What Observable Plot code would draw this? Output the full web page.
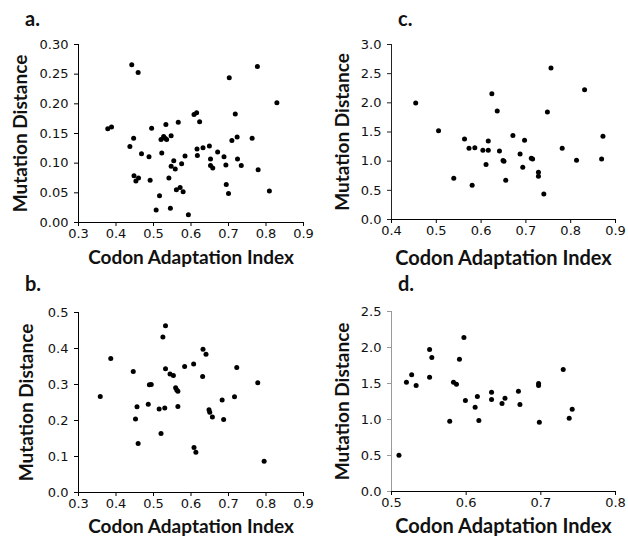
<!DOCTYPE html>
<html>
<head>
<meta charset="utf-8">
<script src="https://cdn.jsdelivr.net/npm/d3@7"></script>
<script src="https://cdn.jsdelivr.net/npm/@observablehq/plot@0.6"></script>
<style>
  html, body { margin: 0; padding: 0; background: #fff; }
  #root { position: relative; width: 628px; height: 536px; overflow: hidden; }
  .panel { position: absolute; width: 314px; height: 270px; }
  .tag { position: absolute; font-family: Lato, sans-serif; font-weight: bold; font-size: 20px; color: #111; line-height: 1; }
</style>
</head>
<body>
<div id="root"></div>
<script>
// ---- Data ----
const xLabel = "Codon Adaptation Index";
const yLabel = "Mutation Distance";

// Panel a
const aCAI  = [0.442,0.459,0.378,0.388,0.437,0.447,0.468,0.488,0.495,0.448,0.453,0.460,0.491,0.507,0.516,0.520,0.522,0.527,0.531,0.535,0.533,0.541,0.545,0.547,0.547,0.554,0.558,0.561,0.566,0.571,0.575,0.579,0.584,0.593,0.608,0.615,0.616,0.617,0.623,0.632,0.649,0.652,0.652,0.658,0.671,0.688,0.693,0.694,0.700,0.702,0.709,0.718,0.723,0.724,0.734,0.763,0.777,0.779,0.809,0.829];
const aDist = [0.266,0.253,0.158,0.161,0.128,0.142,0.116,0.111,0.159,0.079,0.070,0.075,0.071,0.021,0.045,0.140,0.117,0.145,0.142,0.140,0.165,0.075,0.024,0.146,0.095,0.104,0.090,0.055,0.169,0.059,0.099,0.052,0.112,0.013,0.182,0.185,0.124,0.113,0.170,0.126,0.129,0.107,0.096,0.092,0.119,0.111,0.097,0.064,0.049,0.244,0.138,0.183,0.144,0.107,0.096,0.142,0.263,0.089,0.053,0.202];

// Panel b
const bCAI  = [0.358,0.386,0.446,0.452,0.456,0.459,0.486,0.489,0.494,0.515,0.520,0.525,0.530,0.532,0.532,0.544,0.553,0.559,0.562,0.565,0.565,0.583,0.607,0.608,0.613,0.631,0.632,0.640,0.648,0.650,0.657,0.683,0.687,0.716,0.722,0.778,0.795];
const bDist = [0.267,0.372,0.336,0.204,0.238,0.136,0.245,0.299,0.300,0.232,0.164,0.432,0.235,0.463,0.344,0.329,0.325,0.291,0.285,0.281,0.239,0.350,0.357,0.125,0.112,0.322,0.398,0.384,0.230,0.223,0.210,0.257,0.203,0.266,0.347,0.305,0.087];

// Panel c
const cCAI  = [0.454,0.505,0.539,0.563,0.573,0.580,0.586,0.604,0.611,0.616,0.616,0.624,0.636,0.641,0.649,0.651,0.655,0.671,0.687,0.693,0.697,0.712,0.715,0.728,0.728,0.740,0.748,0.756,0.781,0.813,0.831,0.869,0.872];
const cDist = [1.997,1.523,0.707,1.380,1.221,0.588,1.232,1.187,0.941,1.346,1.187,2.156,1.860,1.175,1.010,0.998,0.673,1.438,1.124,0.896,1.358,1.050,1.038,0.810,0.742,0.439,1.843,2.596,1.221,1.015,2.225,1.038,1.426];

// Panel d
const dCAI  = [0.510,0.520,0.527,0.533,0.551,0.551,0.554,0.578,0.583,0.587,0.591,0.597,0.599,0.612,0.615,0.617,0.634,0.634,0.648,0.652,0.670,0.672,0.697,0.697,0.698,0.730,0.738,0.742];
const dDist = [0.505,1.519,1.620,1.472,1.972,1.588,1.861,0.977,1.519,1.491,1.838,2.139,1.264,1.171,1.319,0.986,1.380,1.278,1.222,1.296,1.394,1.208,1.500,1.472,0.963,1.694,1.019,1.144];

// Axis ticks
const aXTicks = [0.3,0.4,0.5,0.6,0.7,0.8,0.9];
const aYTicks = [0,0.05,0.10,0.15,0.20,0.25,0.30];
const bXTicks = [0.3,0.4,0.5,0.6,0.7,0.8,0.9];
const bYTicks = [0,0.1,0.2,0.3,0.4,0.5];
const cXTicks = [0.4,0.5,0.6,0.7,0.8,0.9];
const cYTicks = [0,0.5,1.0,1.5,2.0,2.5,3.0];
const dXTicks = [0.5,0.6,0.7,0.8];
const dYTicks = [0,0.5,1.0,1.5,2.0,2.5];

const panels = [
  {tag:"a.", x:aCAI, y:aDist, xt:aXTicks, yt:aYTicks, yf:".2f", left:0, top:0,
   m:{l:78,r:11,t:44,b:48}, ylDx:-58, xlDy:41, xlSize:19, yAxisColor:"#000", tagPos:[25,8]},
  {tag:"b.", x:bCAI, y:bDist, xt:bXTicks, yt:bYTicks, yf:".1f", left:0, top:270,
   m:{l:78,r:11,t:42,b:48}, ylDx:-52, xlDy:40, xlSize:19, yAxisColor:"#000", tagPos:[25,273]},
  {tag:"c.", x:cCAI, y:cDist, xt:cXTicks, yt:cYTicks, yf:".1f", left:314, top:0,
   m:{l:77,r:13,t:44,b:51}, ylDx:-49, xlDy:45, xlSize:20, yAxisColor:"#222", tagPos:[398,8]},
  {tag:"d.", x:dCAI, y:dDist, xt:dXTicks, yt:dYTicks, yf:".1f", left:314, top:270,
   m:{l:77,r:13,t:41,b:49}, ylDx:-49, xlDy:41, xlSize:20, yAxisColor:"#999", tagPos:[398,273]}
];

const root = document.getElementById("root");

for (const p of panels) {
  const pts = p.x.map((v, i) => ({cai: v, dist: p.y[i]}));
  const xd = [p.xt[0], p.xt[p.xt.length - 1]];
  const yd = [p.yt[0], p.yt[p.yt.length - 1]];
  const chart = Plot.plot({
    width: 314,
    height: 270,
    marginLeft: p.m.l,
    marginRight: p.m.r,
    marginTop: p.m.t,
    marginBottom: p.m.b,
    style: {fontFamily: "'DejaVu Sans', sans-serif", fontSize: "13px", color: "#111", background: "#fff", overflow: "visible"},
    x: {domain: xd},
    y: {domain: yd},
    marks: [
      Plot.axisX({ticks: p.xt, tickFormat: d3.format(".1f"), tickSize: 4, tickPadding: 2, label: null, stroke: "#000"}),
      Plot.axisY({ticks: p.yt, tickFormat: d3.format(p.yf), tickSize: 4, tickPadding: 6, label: null, stroke: p.yAxisColor}),
      Plot.ruleX([xd[0]], {stroke: p.yAxisColor, strokeWidth: 1}),
      Plot.ruleY([yd[0]], {stroke: "#000", strokeWidth: 1}),
      Plot.dot(pts, {x: "cai", y: "dist", r: 2.5, fill: "#000", stroke: null}),
      Plot.text([yLabel], {text: d => d, frameAnchor: "left", dx: p.ylDx, rotate: -90,
        textAnchor: "middle", lineAnchor: "middle",
        fontFamily: "Lato, sans-serif", fontWeight: "bold", fontSize: 19, fill: "#111"}),
      Plot.text([xLabel], {text: d => d, frameAnchor: "bottom", dy: p.xlDy,
        textAnchor: "middle", lineAnchor: "bottom",
        fontFamily: "Lato, sans-serif", fontWeight: "bold", fontSize: p.xlSize, fill: "#111"})
    ]
  });
  const div = document.createElement("div");
  div.className = "panel";
  div.style.left = p.left + "px";
  div.style.top = p.top + "px";
  div.appendChild(chart);
  root.appendChild(div);

  const tag = document.createElement("div");
  tag.className = "tag";
  tag.textContent = p.tag;
  tag.style.left = p.tagPos[0] + "px";
  tag.style.top = p.tagPos[1] + "px";
  root.appendChild(tag);
}
</script>
</body>
</html>
